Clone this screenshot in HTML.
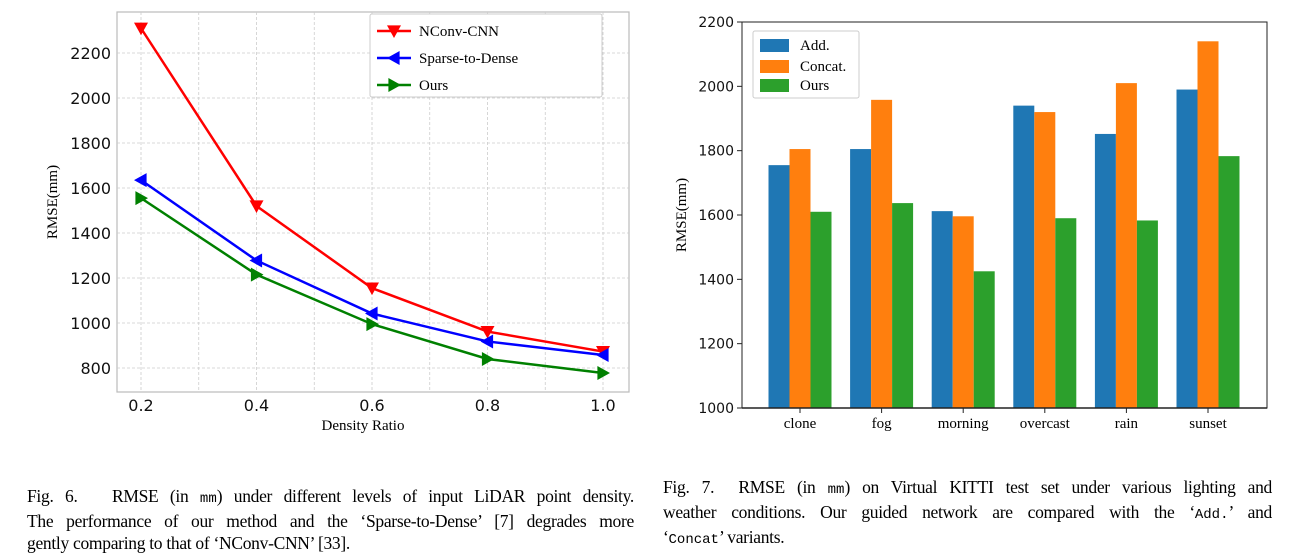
<!DOCTYPE html>
<html><head><meta charset="utf-8">
<style>
body{margin:0;width:1290px;height:558px;background:#fff;overflow:hidden;position:relative;font-family:"Liberation Serif",serif}
svg{position:absolute;left:0;top:0}
.cap{position:absolute;font-size:17.5px;line-height:22px;color:#000;letter-spacing:-0.3px}
.cap div{white-space:nowrap;text-align:justify;text-align-last:justify}
.cap div.last{text-align-last:left}
.mono{font-family:"Liberation Mono",monospace;font-size:14px;letter-spacing:0}
</style></head><body>
<svg id="c" width="1290" height="470"></svg>
<div class="cap" style="left:27px;top:485px;width:607px">
<div>Fig. 6.&nbsp;&nbsp; RMSE (in <span class="mono">mm</span>) under different levels of input LiDAR point density.</div>
<div>The performance of our method and the ‘Sparse-to-Dense’ [7] degrades more</div>
<div class="last">gently comparing to that of ‘NConv-CNN’ [33].</div>
</div>
<div class="cap" style="left:663px;top:476px;width:609px">
<div>Fig. 7.&nbsp; RMSE (in <span class="mono">mm</span>) on Virtual KITTI test set under various lighting and</div>
<div>weather conditions. Our guided network are compared with the ‘<span class="mono">Add.</span>’ and</div>
<div class="last">‘<span class="mono">Concat</span>’ variants.</div>
</div>
<script>
// Left chart data
const densities=[0.2,0.4,0.6,0.8,1.0];
const nconv=[2310,1520,1155,962,873];
const s2d=[1635,1278,1042,918,858];
const ours=[1555,1215,995,840,778];
const leftYTicks=[800,1000,1200,1400,1600,1800,2000,2200];
const leftXTicks=["0.2","0.4","0.6","0.8","1.0"];
// Right chart data
const conditions=["clone","fog","morning","overcast","rain","sunset"];
const addVals=[1755,1805,1612,1940,1852,1990];
const concatVals=[1805,1958,1596,1920,2010,2140];
const oursVals=[1610,1637,1425,1590,1583,1783];
const rightYTicks=[1000,1200,1400,1600,1800,2000,2200];

const NS="http://www.w3.org/2000/svg";
const svg=document.getElementById('c');
function mk(tag,attrs,parent,name,txt){const e=document.createElementNS(NS,tag);for(const k in attrs)e.setAttribute(k,attrs[k]);


if(txt!==undefined)e.textContent=txt;(parent||svg).appendChild(e);return e;}
const F='"Liberation Serif", serif';

// ---- Left chart ----
const L={x0:117,x1:629,y0:12,y1:392};
const lx=v=>141+(v-0.2)/0.8*(603-141);
const ly=v=>368-(v-800)*0.225;
mk('rect',{x:L.x0,y:L.y0,width:L.x1-L.x0,height:L.y1-L.y0,fill:'#fff',stroke:'#bbb','stroke-width':1.2},null,'left-plot-area');
for(let i=1;i<=9;i++){const v=0.1*i+0.1;const x=lx(v);if(x<L.x0||x>L.x1)continue;
mk('line',{x1:x,x2:x,y1:L.y0,y2:L.y1,stroke:'#ccc','stroke-dasharray':'3,2','stroke-width':0.8},null,'left-x-grid');}
leftYTicks.forEach(v=>{const y=ly(v);mk('line',{x1:L.x0,x2:L.x1,y1:y,y2:y,stroke:'#ccc','stroke-dasharray':'3,2','stroke-width':0.8},null,'left-y-grid');
mk('text',{x:111,y:y+6,'text-anchor':'end','font-size':16,'font-family':'"DejaVu Sans",sans-serif',fill:'#111'},null,'left-y-tick',String(v));});
densities.forEach((d,i)=>{mk('text',{x:lx(d),y:411,'text-anchor':'middle','font-size':16,'font-family':'"DejaVu Sans",sans-serif',fill:'#111'},null,'left-x-tick',leftXTicks[i]);});
mk('text',{x:363,y:430,'text-anchor':'middle','font-size':15,'font-family':F},null,'left-x-axis-title','Density Ratio');
mk('text',{x:57,y:202,'text-anchor':'middle','font-size':15,'font-family':F,transform:'rotate(-90 57 202)'},null,'left-y-axis-title','RMSE(mm)');
function marker(x,y,dir,col,name){const s=7;let p;
if(dir==='down')p=[[x-s,y-s*0.8],[x+s,y-s*0.8],[x,y+s]];
else if(dir==='left')p=[[x-s,y],[x+s*0.8,y-s],[x+s*0.8,y+s]];
else p=[[x+s,y],[x-s*0.8,y-s],[x-s*0.8,y+s]];
mk('polygon',{points:p.map(q=>q.join(',')).join(' '),fill:col},null,name);}
function series(vals,col,dir,name){const pts=vals.map((v,i)=>[lx(densities[i]),ly(v)]);
mk('polyline',{points:pts.map(p=>p.join(',')).join(' '),fill:'none',stroke:col,'stroke-width':2.5},null,name+'-line');
pts.forEach(p=>marker(p[0],p[1],dir,col,name+'-point'));}
series(nconv,'#ff0000','down','nconv-cnn');
series(s2d,'#0000ff','left','sparse-to-dense');
series(ours,'#008000','right','ours');
const lg=mk('g',{},null,'left-legend');
mk('rect',{x:370,y:14,width:232,height:83,fill:'#fff',stroke:'#ccc','stroke-width':1,rx:2},lg,'left-legend-box');
[['NConv-CNN','#ff0000','down',31],['Sparse-to-Dense','#0000ff','left',58],['Ours','#008000','right',85]].forEach(e=>{
mk('line',{x1:377,x2:411,y1:e[3],y2:e[3],stroke:e[1],'stroke-width':2.5},lg,'legend-entry-line');
marker(394,e[3],e[2],e[1],'legend-entry-marker');
mk('text',{x:419,y:e[3]+5,'font-size':15,'font-family':F},lg,'legend-entry',e[0]);});

// ---- Right chart ----
const R={x0:742,x1:1267,y0:22,y1:408};
const ry=v=>408-(v-1000)*(386/1200);
const cx=i=>800+i*81.6;
const bw=21;
mk('rect',{x:R.x0,y:R.y0,width:R.x1-R.x0,height:R.y1-R.y0,fill:'#fff',stroke:'#222','stroke-width':1},null,'right-plot-area');
rightYTicks.forEach(v=>{const y=ry(v);mk('line',{x1:R.x0-5,x2:R.x0,y1:y,y2:y,stroke:'#222'},null,'right-y-tick-mark');
mk('text',{x:R.x0-8,y:y+5,'text-anchor':'end','font-size':14,'font-family':'"DejaVu Sans",sans-serif',fill:'#111'},null,'right-y-tick',String(v));});
const cols=['#1f77b4','#ff7f0e','#2ca02c'];
[addVals,concatVals,oursVals].forEach((arr,s)=>{arr.forEach((v,i)=>{const x=cx(i)+(s-1)*bw-bw/2;
mk('rect',{x:x,y:ry(v),width:bw,height:ry(1000)-ry(v),fill:cols[s]},null,'bar-'+['add','concat','ours'][s]+'-'+conditions[i]);});});
conditions.forEach((c,i)=>{mk('line',{x1:cx(i),x2:cx(i),y1:R.y1,y2:R.y1+5,stroke:'#222'},null,'right-x-tick-mark');
mk('text',{x:cx(i),y:428,'text-anchor':'middle','font-size':15,'font-family':F},null,'right-x-tick',c);});
mk('line',{x1:R.x0,x2:R.x1,y1:R.y1,y2:R.y1,stroke:'#222','stroke-width':1.5},null,'right-x-axis');
mk('text',{x:686,y:215,'text-anchor':'middle','font-size':15,'font-family':F,transform:'rotate(-90 686 215)'},null,'right-y-axis-title','RMSE(mm)');
const rg=mk('g',{},null,'right-legend');
mk('rect',{x:753,y:31,width:106,height:67,fill:'#fff',stroke:'#ccc','stroke-width':1,rx:2},rg,'right-legend-box');
[['Add.',0],['Concat.',1],['Ours',2]].forEach((e,k)=>{const y=[45,66,85][k];
mk('rect',{x:760,y:y-6,width:29,height:13,fill:cols[e[1]]},rg,'legend-swatch');
mk('text',{x:800,y:y+5,'font-size':15,'font-family':F},rg,'legend-entry',e[0]);});
</script>
</body></html>
